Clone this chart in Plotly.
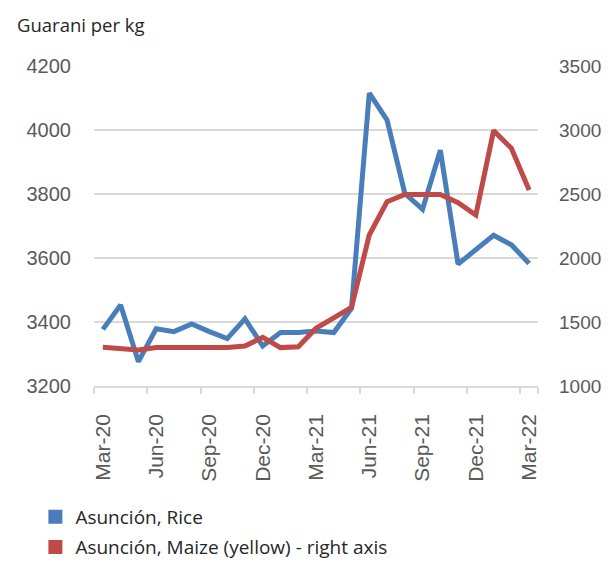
import plotly.graph_objects as go

months = ["Mar-20","Apr-20","May-20","Jun-20","Jul-20","Aug-20","Sep-20","Oct-20","Nov-20","Dec-20",
          "Jan-21","Feb-21","Mar-21","Apr-21","May-21","Jun-21","Jul-21","Aug-21","Sep-21","Oct-21",
          "Nov-21","Dec-21","Jan-22","Feb-22","Mar-22"]
rice = [3377, 3453, 3276, 3379, 3370, 3394, 3370, 3348, 3410, 3325,
        3367, 3367, 3372, 3367, 3443, 4115, 4031, 3802, 3752, 3937,
        3581, 3625, 3671, 3641, 3583]
maize = [1302, 1289, 1281, 1300, 1300, 1300, 1300, 1300, 1312, 1380,
         1300, 1307, 1451, 1529, 1615, 2180, 2440, 2497, 2497, 2497,
         2432, 2336, 2995, 2857, 2531]
tick_labels = months[::3]
left_ticks = [3200, 3400, 3600, 3800, 4000, 4200]
right_ticks = [1000, 1500, 2000, 2500, 3000, 3500]

BLUE = "#4A7EBB"
RED = "#BE4B48"
GRID = "#D9D9D9"
TXT = "#595959"

fig = go.Figure()
fig.add_trace(go.Scatter(x=months, y=rice, mode="lines", line=dict(color=BLUE, width=5),
                         showlegend=False))
fig.add_trace(go.Scatter(x=months, y=maize, mode="lines", line=dict(color=RED, width=5),
                         yaxis="y2", showlegend=False))
fig.add_trace(go.Scatter(x=[None], y=[None], mode="markers", name="Asunción, Rice",
                         marker=dict(symbol="square", size=14, color=BLUE), legend="legend"))
fig.add_trace(go.Scatter(x=[None], y=[None], mode="markers", name="Asunción, Maize (yellow) - right axis",
                         marker=dict(symbol="square", size=14, color=RED), legend="legend2"))

legend_font = dict(family="Open Sans", size=19, color="#262626")
fig.update_layout(
    width=604, height=554,
    margin=dict(l=86, r=74, t=58, b=176, autoexpand=False),
    plot_bgcolor="white", paper_bgcolor="white",
    font=dict(family="Liberation Sans", size=20, color=TXT),
    xaxis=dict(type="category", categoryorder="array", categoryarray=months,
               range=[-0.5, 24.5], tickmode="array", tickvals=tick_labels, ticktext=tick_labels,
               tickangle=-90, tickson="boundaries", ticks="outside", ticklen=6, tickcolor=GRID,
               tickwidth=1.5, showline=True, linecolor=GRID, linewidth=1.5, showgrid=False,
               ticklabelstandoff=18, tickfont=dict(size=21), automargin=False),
    yaxis=dict(range=[3200, 4200], tickvals=left_ticks, showgrid=True, gridcolor=GRID, gridwidth=1.5,
               zeroline=False, ticklabelstandoff=22, automargin=False),
    yaxis2=dict(range=[1000, 3500], tickvals=right_ticks, overlaying="y", side="right",
                showgrid=False, zeroline=False, ticklabelstandoff=20, tickfont=dict(size=19),
                automargin=False),
    legend=dict(x=-0.132, y=-0.35, xanchor="left", yanchor="top", font=legend_font,
                bgcolor="rgba(0,0,0,0)"),
    legend2=dict(x=-0.132, y=-0.444, xanchor="left", yanchor="top", font=legend_font,
                 bgcolor="rgba(0,0,0,0)"),
    annotations=[dict(text="Guarani per kg", xref="paper", yref="paper", x=-0.178, y=1.131,
                      xanchor="left", yanchor="middle", showarrow=False,
                      font=dict(family="Open Sans", size=18.5, color="#262626"))],
)
fig.write_html("out.html")
